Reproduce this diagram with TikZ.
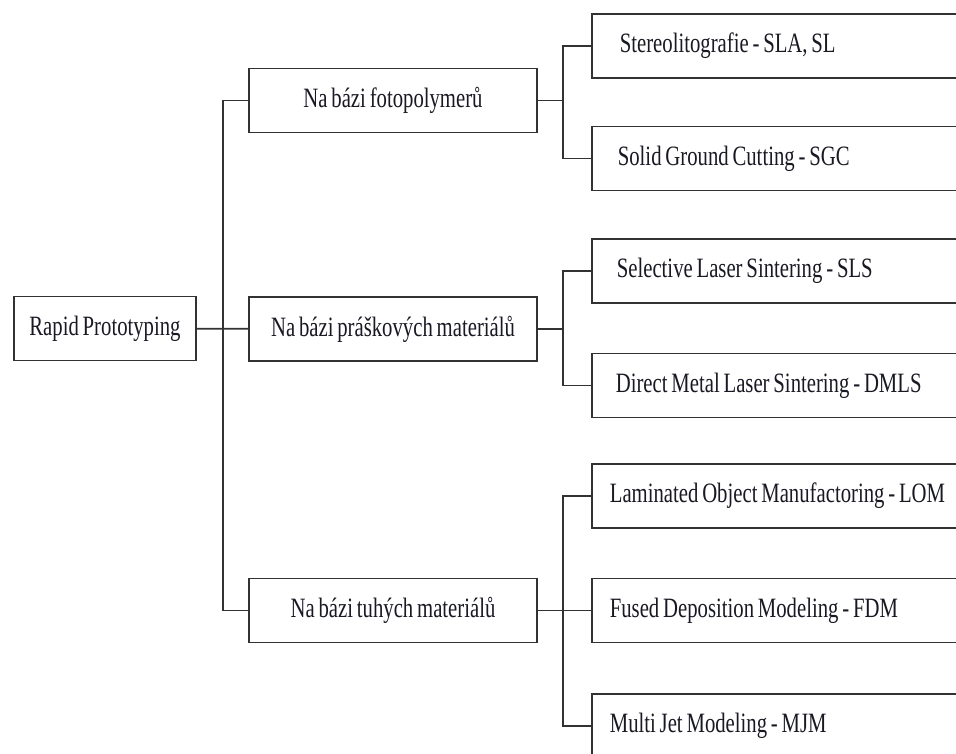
\documentclass[tikz,border=0pt]{standalone}
\usepackage{fontspec}
\setmainfont{Liberation Serif}[FakeStretch=0.74,WordSpace=0.74]
\definecolor{linegray}{RGB}{50,50,50}
\definecolor{textdark}{RGB}{25,25,35}
\newcommand\mtext[1]{\makebox[380pt][l]{#1}}

\begin{document}
\begin{tikzpicture}[x=1pt,y=-1pt,
  box/.style={draw=linegray,line width=1.7,inner sep=0,minimum height=64,
    text=textdark,font=\fontsize{28}{32}\selectfont},
  group/.style={box,minimum width=288},
  method/.style={box,anchor=west,inner xsep=20}]
\def\xRight{591}
\clip (0,0) rectangle (956,754);
\fill[white] (0,0) rectangle (956,754);
\path
(105,328.5) node [box,minimum width=182] (rp) {Rapid Prototyping}
(393,100.5) node [group] (g1) {Na bázi fotopolymerů}
(393,329) node [group] (g2) {Na bázi práškových materiálů}
(393,610.5) node [group] (g3) {Na bázi tuhých materiálů}
(\xRight,46) node [method,inner xsep=28] (s1) {\mtext{Stereolitografie - SLA, SL}}
(\xRight,158.5) node [method,inner xsep=26] (s2) {\mtext{Solid Ground Cutting - SGC}}
(\xRight,271) node [method,inner xsep=25] (s3) {\mtext{Selective Laser Sintering - SLS}}
(\xRight,385.5) node [method,inner xsep=24] (s4) {\mtext{Direct Metal Laser Sintering - DMLS}}
(\xRight,496) node [method,inner xsep=18] (s5) {\mtext{Laminated Object Manufactoring - LOM}}
(\xRight,610.5) node [method,inner xsep=18] (s6) {\mtext{Fused Deposition Modeling - FDM}}
(\xRight,726) node [method,inner xsep=18] (s7) {\mtext{Multi Jet Modeling - MJM}}
;
\path (223,328.5) coordinate (j0)
  (563,100.5) coordinate (j1)
  (563,329) coordinate (j2)
  (563,610.5) coordinate (j3);

\begin{scope}[every path/.style={draw=linegray,line width=1.7}]
\path (rp) -- (g2);
\path (g1.west) -| (j0) |- (g3.west);
\path (g1) -- (j1);
\path (s1.west) -| (j1) |- (s2.west);
\path (g2) -- (j2);
\path (s3.west) -| (j2) |- (s4.west);
\path (g3) -- (s6);
\path (s5.west) -| (j3) |- (s7.west);
\end{scope}
\end{tikzpicture}
\end{document}
